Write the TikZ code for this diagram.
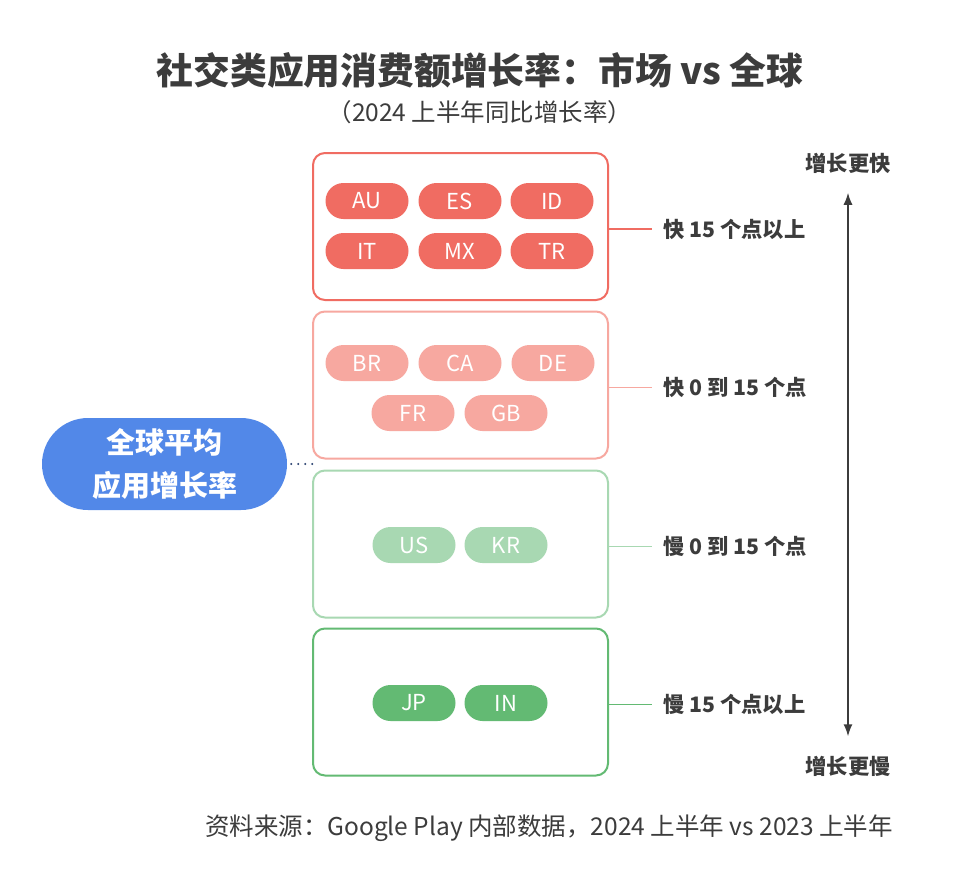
\documentclass[tikz,border=0pt]{standalone}
\usepackage{fontspec}
\setmainfont{Noto Sans CJK SC}
\usetikzlibrary{arrows.meta}
\definecolor{fastred}{HTML}{F06C62}
\definecolor{softred}{HTML}{F7A8A0}
\definecolor{softgreen}{HTML}{A8D8B2}
\definecolor{slowgreen}{HTML}{63BA73}
\definecolor{avgblue}{HTML}{5288E8}
\definecolor{inktext}{HTML}{3C3C3C}
\definecolor{dotnavy}{HTML}{2A4270}
\tikzset{
  band/.style={rounded corners=12pt, line width=2pt, minimum width=295pt, minimum height=147pt},
  chip/.style={rounded corners=18pt, minimum width=83pt, minimum height=36pt, inner sep=0pt,
    text=white, font=\fontsize{22}{24}\selectfont},
  bandlabel/.style={inner sep=0pt, anchor=west, text=inktext, font=\fontsize{21.3}{24}\selectfont\bfseries},
  scalelabel/.style={text=inktext, font=\fontsize{21.3}{24}\selectfont\bfseries},
}
\newcommand{\band}[4]{%
  \node[band, draw=#3] (#1) at (460.5,#2) {};
  \node[bandlabel] (#1lbl) at (663,#2+2.5) {#4};
  \draw[#3, line width=1.5pt, shorten >=11pt] (#1.east |- #1lbl.west) -- (#1lbl.west);}
\newcommand{\chip}[5]{%
  \node[chip, fill=#4] (#1) at (#2,#3) {#5};}

\begin{document}
\begin{tikzpicture}[x=1pt, y=-1pt]
  \useasboundingbox[fill=white] (0,0) rectangle (958,876);
  % Titulo
  \node[text=inktext, font=\fontsize{36.8}{40}\selectfont\bfseries] (title) at (480,70)
    {社交类应用消费额增长率：市场 vs 全球};
  \node[text=inktext, font=\fontsize{24.5}{26}\selectfont] (subtitle) at (480,112)
    {（2024 上半年同比增长率）};
  % Faixas
  \band{fast}{226.5}{fastred}{快 15 个点以上}
  \band{fastsome}{385}{softred}{快 0 到 15 个点}
  \band{slowsome}{544}{softgreen}{慢 0 到 15 个点}
  \band{slow}{702}{slowgreen}{慢 15 个点以上}
  \chip{au}{367}{201}{fastred}{AU}
  \chip{es}{460}{201}{fastred}{ES}
  \chip{id}{552}{201}{fastred}{ID}
  \chip{it}{367}{251}{fastred}{IT}
  \chip{mx}{460}{251}{fastred}{MX}
  \chip{tr}{552}{251}{fastred}{TR}
  \chip{br}{367}{363}{softred}{BR}
  \chip{ca}{460}{363}{softred}{CA}
  \chip{de}{553}{363}{softred}{DE}
  \chip{fr}{413}{413}{softred}{FR}
  \chip{gb}{506}{413}{softred}{GB}
  \chip{us}{414}{545}{softgreen}{US}
  \chip{kr}{506}{545}{softgreen}{KR}
  \chip{jp}{414}{703}{slowgreen}{JP}
  \chip{in}{506}{703}{slowgreen}{IN}
  % Media global
  \node[fill=avgblue, rounded corners=46pt, minimum width=245pt, minimum height=92pt,
    text=white, align=center, font=\fontsize{29}{43}\selectfont\bfseries] (avg) at (164.5,464)
    {全球平均\\应用增长率};
  \coordinate (gap) at (313,464);
  \draw[dotnavy, line width=2.2pt, line cap=round, dash pattern=on 0pt off 7pt,
    shorten <=4pt] (avg.east) -- (gap);
  % Escala
  \node[scalelabel] (faster) at (848,163) {增长更快};
  \node[scalelabel] (slower) at (848,766) {增长更慢};
  \draw[inktext, line width=1.5pt, {Latex[length=12pt,width=9pt]}-{Latex[length=12pt,width=9pt]},
    shorten <=16pt, shorten >=16pt] (faster.south) -- (slower.north);
  \node[text=inktext, font=\fontsize{24.5}{26}\selectfont] (source) at (549,828)
    {资料来源：Google Play 内部数据，2024 上半年 vs 2023 上半年};
\end{tikzpicture}
\end{document}
